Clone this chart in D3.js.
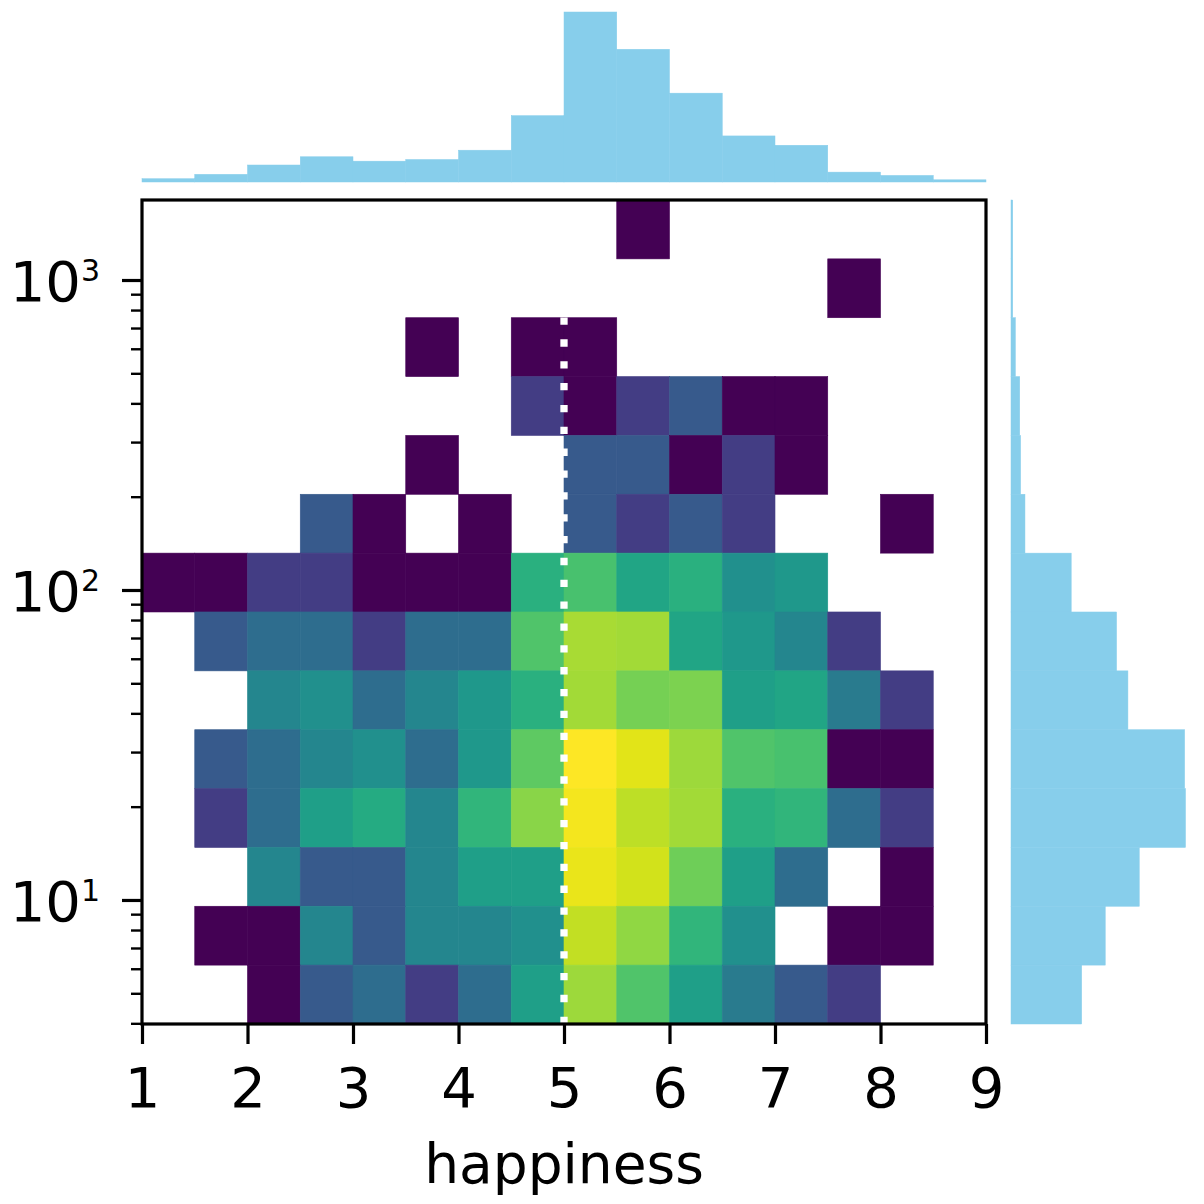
<!DOCTYPE html>
<html>
<head>
<meta charset="utf-8">
<script src="https://cdn.jsdelivr.net/npm/d3@7"></script>
<style>
  html, body { margin: 0; padding: 0; background: #fff; }
  svg { display: block; }
  text { font-family: "DejaVu Sans", sans-serif; fill: #000; }
</style>
</head>
<body>
<svg id="chart" width="1204" height="1204"></svg>
<script>
// ---------------- DATA ----------------
const xEdges = [1, 1.5, 2, 2.5, 3, 3.5, 4, 4.5, 5, 5.5, 6, 6.5, 7, 7.5, 8, 8.5, 9];
const yEdges = [3.98, 6.164, 9.544, 14.77, 22.88, 35.42, 54.84, 84.93, 131.5, 203.6, 315.2, 488.1, 755.7, 1170, 1811.8];
const xTicks = [1, 2, 3, 4, 5, 6, 7, 8, 9];
const yTickExponents = [1, 2, 3];
const xLabel = "happiness";

// 2D histogram counts; rows listed from the top y-bin down to the bottom y-bin,
// columns follow xEdges (16 bins). 0 = empty cell.
const countsTopDown = [
  [0,0,0,0,0,0,0,0,0,1,0,0,0,0,0,0],
  [0,0,0,0,0,0,0,0,0,0,0,0,0,1,0,0],
  [0,0,0,0,0,1,0,1,1,0,0,0,0,0,0,0],
  [0,0,0,0,0,0,0,2,1,2,3,1,1,0,0,0],
  [0,0,0,0,0,1,0,0,3,3,1,2,1,0,0,0],
  [0,0,0,3,1,0,1,0,3,2,3,2,0,0,1,0],
  [1,1,2,2,1,1,1,12,16,10,12,7,8,0,0,0],
  [0,3,4,4,2,4,4,17,30,29,10,8,6,2,0,0],
  [0,0,6,7,4,6,8,12,29,22,23,9,10,5,2,0],
  [0,3,4,6,7,4,8,19,50,42,28,17,16,1,1,0],
  [0,2,4,9,11,6,13,25,47,34,29,12,13,4,2,0],
  [0,0,6,3,3,6,9,9,44,38,21,9,4,0,1,0],
  [0,1,1,6,3,6,6,7,35,26,13,7,0,1,1,0],
  [0,0,1,3,4,2,4,9,28,17,9,5,3,2,0,0]
];

// marginal histogram of happiness (top), one value per x bin
const topHist = [6, 14, 31, 46, 38, 41, 58, 121, 310, 242, 162, 84, 67, 18, 12, 4];
// marginal histogram of the y variable (right), top bin first
const rightHist = [2, 2, 5, 10, 11, 16, 69, 121, 134, 199, 200, 147, 108, 81];

const threshold = 5;

// ---------------- LAYOUT ----------------
const plot = { left: 142, right: 986, top: 200, bottom: 1024 };
const svg = d3.select("#chart");

const x = d3.scaleLinear().domain([1, 9]).range([plot.left, plot.right]);
const y = d3.scaleLog().domain([yEdges[0], yEdges[yEdges.length - 1]]).range([plot.bottom, plot.top]);
const color = d3.scaleSequentialLog(d3.interpolateViridis).domain([1, 50]);

// ---------------- 2D HISTOGRAM ----------------
const nRows = countsTopDown.length;
const cells = [];
countsTopDown.forEach((row, ri) => {
  const yi = nRows - 1 - ri; // y-bin index from bottom
  row.forEach((c, xi) => {
    if (c > 0) cells.push({ x0: xEdges[xi], x1: xEdges[xi + 1], y0: yEdges[yi], y1: yEdges[yi + 1], c });
  });
});

svg.append("g").selectAll("rect").data(cells).join("rect")
  .attr("x", d => x(d.x0))
  .attr("y", d => y(d.y1))
  .attr("width", d => x(d.x1) - x(d.x0))
  .attr("height", d => y(d.y0) - y(d.y1))
  .attr("fill", d => color(d.c))
  .attr("stroke", d => color(d.c))
  .attr("stroke-width", 0.6);

// dotted threshold line
svg.append("line")
  .attr("x1", x(threshold)).attr("x2", x(threshold))
  .attr("y1", plot.bottom).attr("y2", plot.top)
  .attr("stroke", "#fff")
  .attr("stroke-width", 7.3)
  .attr("stroke-dasharray", "7.3 14.55");

// ---------------- AXES ----------------
const xAxis = d3.axisBottom(x).tickValues(xTicks).tickFormat(d3.format("d"))
  .tickSize(20).tickPadding(23);
const gx = svg.append("g").attr("transform", `translate(0,${plot.bottom})`).call(xAxis);
gx.select(".domain").remove();
gx.selectAll(".tick line").attr("stroke", "#000").attr("stroke-width", 3.2);
gx.selectAll(".tick text").attr("font-size", 56).attr("font-family", "DejaVu Sans");

// y axis: major + minor ticks
const yMajor = yTickExponents.map(e => Math.pow(10, e));
const yMinor = [];
[0, 1, 2, 3].forEach(e => {
  for (let m = 2; m <= 9; m++) {
    const v = m * Math.pow(10, e);
    if (v >= yEdges[0] && v <= yEdges[yEdges.length - 1]) yMinor.push(v);
  }
});
const gyMinor = svg.append("g").attr("transform", `translate(${plot.left},0)`)
  .call(d3.axisLeft(y).tickValues(yMinor).tickSize(11).tickFormat(""));
gyMinor.select(".domain").remove();
gyMinor.selectAll(".tick line").attr("stroke", "#000").attr("stroke-width", 2.4);

const gy = svg.append("g").attr("transform", `translate(${plot.left},0)`)
  .call(d3.axisLeft(y).tickValues(yMajor).tickSize(20).tickFormat(""));
gy.select(".domain").remove();
gy.selectAll(".tick line").attr("stroke", "#000").attr("stroke-width", 3.2);
gy.selectAll(".tick").each(function (d, i) {
  const t = d3.select(this).append("text")
    .attr("x", -42).attr("y", 0)
    .attr("text-anchor", "end")
    .attr("font-size", 56)
    .attr("dy", "0.37em");
  t.append("tspan").text("10");
  t.append("tspan").attr("font-size", 30).attr("dy", -20).text(String(Math.round(Math.log10(d))));
});

// spines
svg.append("rect")
  .attr("x", plot.left).attr("y", plot.top)
  .attr("width", plot.right - plot.left).attr("height", plot.bottom - plot.top)
  .attr("fill", "none").attr("stroke", "#000").attr("stroke-width", 3.2);

// x label
svg.append("text")
  .attr("x", (plot.left + plot.right) / 2)
  .attr("y", 1183)
  .attr("text-anchor", "middle")
  .attr("font-size", 55)
  .text(xLabel);

// ---------------- TOP MARGINAL ----------------
const topY = d3.scaleLinear().domain([0, d3.max(topHist)]).range([182, 12]);
svg.append("g").selectAll("rect").data(topHist).join("rect")
  .attr("x", (d, i) => x(xEdges[i]))
  .attr("y", d => topY(d))
  .attr("width", (d, i) => x(xEdges[i + 1]) - x(xEdges[i]))
  .attr("height", d => topY(0) - topY(d))
  .attr("fill", "#87ceeb")
  .attr("stroke", "#87ceeb")
  .attr("stroke-width", 0.5);

// ---------------- RIGHT MARGINAL ----------------
const rightX = d3.scaleLinear().domain([0, 200]).range([1011, 1185.5]);
svg.append("g").selectAll("rect").data(rightHist).join("rect")
  .attr("x", rightX(0))
  .attr("y", (d, i) => y(yEdges[nRows - i]))
  .attr("width", d => rightX(d) - rightX(0))
  .attr("height", (d, i) => y(yEdges[nRows - 1 - i]) - y(yEdges[nRows - i]))
  .attr("fill", "#87ceeb")
  .attr("stroke", "#87ceeb")
  .attr("stroke-width", 0.5);
</script>
</body>
</html>
